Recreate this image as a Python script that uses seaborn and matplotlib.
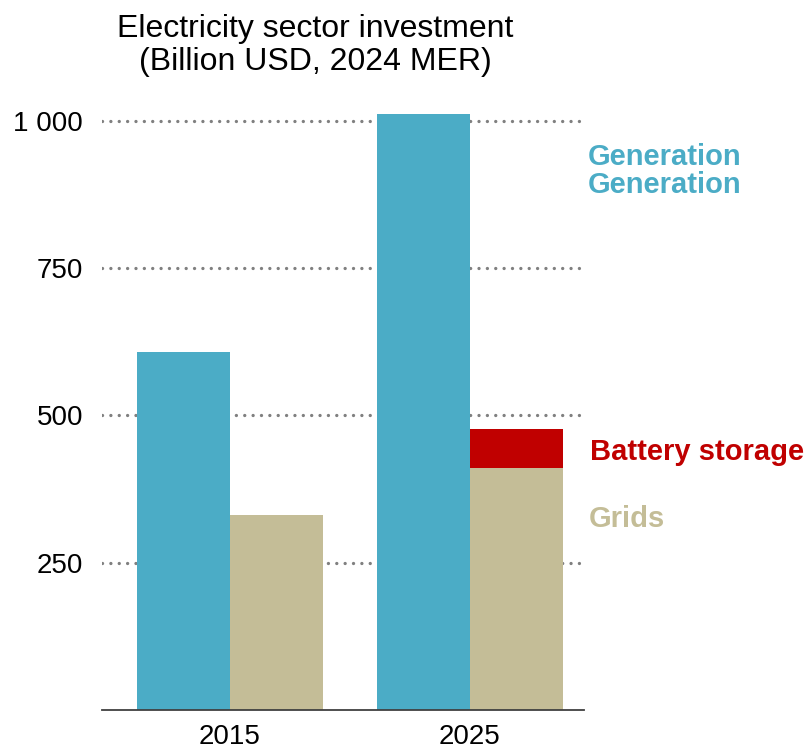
import matplotlib
matplotlib.use("Agg")
import matplotlib.pyplot as plt
import pandas as pd
import seaborn as sns

# values (Billion USD, 2024 MER)
years = ["2015", "2025"]
generation = [608, 1012]
grids = [331, 411]
battery = [0, 65]

blue = "#4BACC6"
beige = "#C4BD97"
red = "#C00000"

sns.set_style("white")
plt.rcParams["font.family"] = ["Liberation Sans", "DejaVu Sans"]

# totals: grids + battery drawn first (red), grids drawn over it
df_total = pd.DataFrame({
    "year": years * 2,
    "series": ["Generation"] * 2 + ["Grids"] * 2,
    "value": generation + [g + b for g, b in zip(grids, battery)],
})
df_base = pd.DataFrame({
    "year": years * 2,
    "series": ["Generation"] * 2 + ["Grids"] * 2,
    "value": generation + grids,
})

fig = plt.figure(figsize=(8.06, 7.51), dpi=100)
ax = fig.add_axes([0.127, 0.0546, 0.597, 0.824])

sns.barplot(data=df_total, x="year", y="value", hue="series",
            palette={"Generation": blue, "Grids": red},
            width=0.775, saturation=1, ax=ax, legend=False,
            edgecolor="none", linewidth=0)
sns.barplot(data=df_base, x="year", y="value", hue="series",
            palette={"Generation": blue, "Grids": beige},
            width=0.775, saturation=1, ax=ax, legend=False,
            edgecolor="none", linewidth=0)

ax.set_xlim(-0.53, 1.475)
ax.set_ylim(0, 1050)
ax.set_yticks([250, 500, 750, 1000])
ax.set_yticklabels(["250", "500", "750", "1 000"])
ax.set_xlabel("")
ax.set_ylabel("")
ax.tick_params(axis="both", length=0, labelsize=20, colors="black")
ax.tick_params(axis="y", pad=14)
ax.tick_params(axis="x", pad=10)

ax.set_axisbelow(True)
ax.yaxis.grid(True, color="#808080", linewidth=2.4,
              linestyle=(0, (0.01, 2.5)), dash_capstyle="round")
ax.xaxis.grid(False)

for s in ["left", "right", "top"]:
    ax.spines[s].set_visible(False)
ax.spines["bottom"].set_color("#404040")
ax.spines["bottom"].set_linewidth(1.3)

fig.text(0.391, 0.982, "Electricity sector investment\n(Billion USD, 2024 MER)",
         ha="center", va="top", fontsize=23, linespacing=1.15, color="black")

ytrans = ax.get_yaxis_transform()
ax.text(1.008, 938, "Generation", transform=ytrans,
        color=blue, fontsize=21, fontweight="bold", va="center")
ax.text(1.008, 891, "Generation", transform=ytrans,
        color=blue, fontsize=21, fontweight="bold", va="center")
ax.text(1.013, 438, "Battery storage", transform=ytrans,
        color=red, fontsize=21, fontweight="bold", va="center")
ax.text(1.01, 324, "Grids", transform=ytrans,
        color=beige, fontsize=21, fontweight="bold", va="center")

fig.savefig("out.png", dpi=100)
